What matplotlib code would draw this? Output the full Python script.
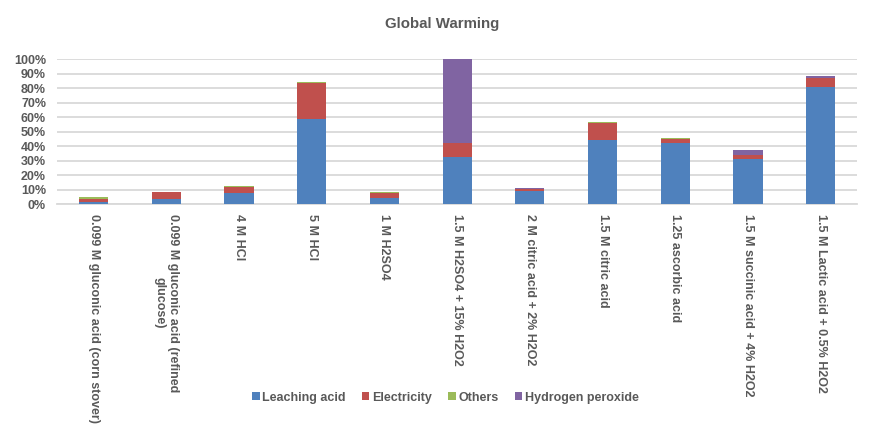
import matplotlib
matplotlib.use("Agg")
import matplotlib.pyplot as plt
import numpy as np
from matplotlib.ticker import PercentFormatter

plt.rcParams['font.family'] = ['Liberation Sans', 'DejaVu Sans']

categories = [
    "0.099 M gluconic acid (corn stover)",
    "0.099 M gluconic acid (refined\nglucose)",
    "4 M HCl",
    "5 M HCl",
    "1 M H2SO4",
    "1.5 M H2SO4 + 15% H2O2",
    "2 M citric acid + 2% H2O2",
    "1.5 M citric acid",
    "1.25 ascorbic acid",
    "1.5 M succinic acid + 4% H2O2",
    "1.5 M Lactic acid + 0.5% H2O2",
]

# shares of the global warming impact, in %
leaching_acid = [1.6, 3.7, 7.8, 58.7, 4.6, 32.6, 9.2, 44.5, 42.2, 31.2, 80.7]
electricity = [2.1, 4.8, 4.1, 24.8, 3.2, 9.4, 1.4, 11.5, 2.8, 2.5, 6.5]
others = [1.3, 0.2, 0.7, 0.7, 0.9, 0.0, 0.0, 0.7, 0.6, 0.0, 0.0]
hydrogen_peroxide = [0.0, 0.0, 0.0, 0.0, 0.0, 58.0, 0.6, 0.0, 0.0, 3.7, 1.1]

series = [
    ("Leaching acid", leaching_acid, "#4F81BD"),
    ("Electricity", electricity, "#C0504D"),
    ("Others", others, "#9BBB59"),
    ("Hydrogen peroxide", hydrogen_peroxide, "#8064A2"),
]

text_color = "#595959"
grid_color = "#D9D9D9"
fs = 9

fig = plt.figure(figsize=(8.8, 4.44), dpi=100)
ax = fig.add_axes([0.065, 0.540, 0.909, 0.327])

x = np.arange(len(categories))
bottom = np.zeros(len(categories))
for name, vals, color in series:
    vals = np.array(vals) / 100.0
    ax.bar(x, vals, width=0.4, bottom=bottom, color=color, label=name, zorder=3)
    bottom += vals

ax.set_xlim(-0.5, len(categories) - 0.5)
ax.set_ylim(0, 1.0)
ax.set_yticks(np.arange(0, 1.01, 0.1))
ax.yaxis.set_major_formatter(PercentFormatter(1.0, decimals=0))
ax.grid(axis="y", color=grid_color, linewidth=1.3, zorder=0)

for side in ["top", "right", "left"]:
    ax.spines[side].set_visible(False)
ax.spines["bottom"].set_color(grid_color)
ax.spines["bottom"].set_linewidth(1.3)

ax.set_xticks(x)
ax.set_xticklabels(categories, rotation=270, va="top", ha="center",
                   multialignment="center")
ax.tick_params(axis="both", length=0, labelsize=fs, labelcolor=text_color)
ax.tick_params(axis="x", pad=7)
ax.tick_params(axis="y", pad=8)
for lbl in ax.get_xticklabels() + ax.get_yticklabels():
    lbl.set_fontweight("bold")

fig.text(0.502, 0.946, "Global Warming", ha="center", va="center",
         fontsize=10.8, fontweight="bold", color=text_color)

leg = fig.legend(loc="center", bbox_to_anchor=(0.506, 0.104), ncol=4,
                 frameon=False, handlelength=0.6, handleheight=0.6,
                 handletextpad=0.2, columnspacing=1.3,
                 prop={"size": fs, "weight": "bold"})
for t in leg.get_texts():
    t.set_color(text_color)

fig.savefig("out.png", dpi=100)
